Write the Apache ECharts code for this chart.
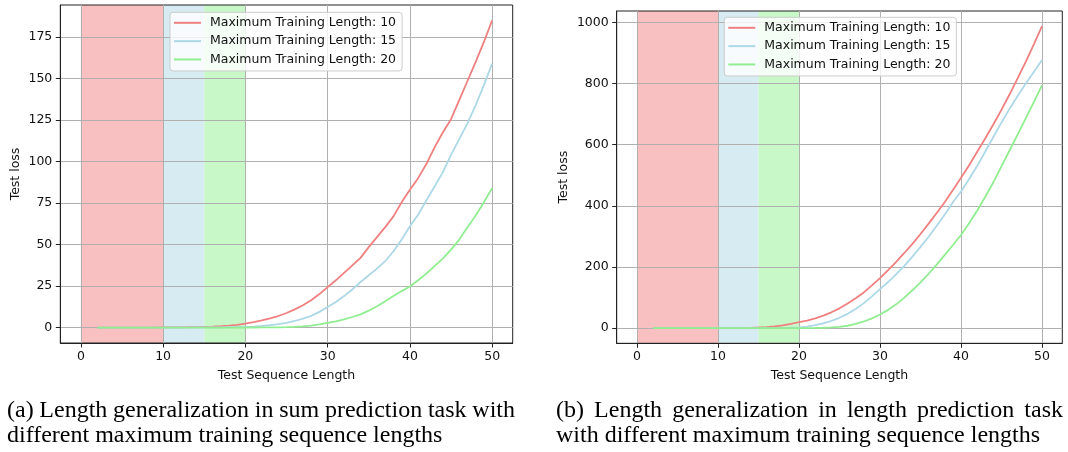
<!DOCTYPE html>
<html><head><meta charset="utf-8">
<script src="https://cdn.jsdelivr.net/npm/echarts@6/dist/echarts.min.js"></script>
<style>html,body{margin:0;padding:0;background:#fff}#c{width:1068px;height:452px}</style>
</head><body><div id="c"></div>
<script>
// ---- data ----
const seqLen = [2,3,4,5,6,7,8,9,10,11,12,13,14,15,16,17,18,19,20,21,22,23,24,25,26,27,28,29,30,31,32,33,34,35,36,37,38,39,40,41,42,43,44,45,46,47,48,49,50];
const seriesNames = ['Maximum Training Length: 10','Maximum Training Length: 15','Maximum Training Length: 20'];
// (a) sum prediction task
const sumLoss10 = [0,0,0,0,0,0,0,0.05,0.1,0.15,0.2,0.25,0.35,0.5,0.65,0.85,1.2,1.7,2.4,3.3,4.4,5.6,7.0,8.8,11.0,13.5,16.5,20.2,24.4,28.5,33,37.5,42,48.5,54.5,60.5,67,75.5,83,90,98.5,108.5,117.5,125.5,137,148.5,160,172,185];
const sumLoss15 = [0,0,0,0,0,0,0,0,0,0,0.05,0.05,0.1,0.1,0.15,0.2,0.25,0.3,0.4,0.6,1.0,1.5,2.1,2.9,4.0,5.4,7.1,9.5,12.4,15.5,19.0,23.0,27.5,31.5,35.5,40,46,53,61,68,76.5,85,93.5,104,113.5,123,134,146,159];
const sumLoss20 = [0,0,0,0,0,0,0,0,0,0,0,0,0,0,0,0,0,0,0.05,0.08,0.1,0.15,0.2,0.3,0.5,0.8,1.2,1.9,2.8,3.8,5.0,6.4,8.0,10.2,12.9,15.9,19.1,22.0,24.8,28.5,32.5,37,41.5,47,53,60.5,67.5,75.5,84];
// (b) length prediction task
const lenLoss10 = [0,0,0,0,0,0,0,0,0.1,0.2,0.3,0.6,1.2,2.2,3.8,6,9.5,14,19.5,25,32,41,52,65,81,98,117,140,164,190,217,246,276,308,342,377,413,452,492,533,577,621,667,715,765,818,872,929,988];
const lenLoss15 = [0,0,0,0,0,0,0,0,0,0.05,0.1,0.15,0.2,0.3,0.5,0.8,1.2,1.6,2.5,5,10,16,24,34,47,63,82,104,128,151,177,204,234,266,299,335,372,412,447,488,531,578,626,673,718,760,800,839,877];
const lenLoss20 = [0,0,0,0,0,0,0,0,0,0,0,0,0,0,0,0,0,0,0.2,0.4,0.8,1.5,2.5,4,8,14,22,32,45,60,78,100,124,150,178,208,240,272,305,343,385,430,478,530,582,634,687,740,795];
// training-length bands
const bands = [[0,10],[10,15],[15,20]];
// tick labels
const xTicks = [0,10,20,30,40,50];
const yTicksA = [0,25,50,75,100,125,150,175];
const yTicksB = [0,200,400,600,800,1000];
const captionA = ['(a) Length generalization in sum prediction task with','different maximum training sequence lengths'];
const captionB = ['(b) Length generalization in length prediction task','with different maximum training sequence lengths'];

// ---- styles ----
const lineColors = ['#F08080','#ADD8E6','#90EE90'];
const bandColors = ['#f8c0c0','#d6ebf2','#c8f7c8'];
const FONT = 'DejaVu Sans';
const FS = 12.5;

const grids = [
  {left:60.3, top:5, width:452.4, height:338},
  {left:616.7, top:11, width:445.6, height:332.3}
];

function xAxisOf(i){
  return {type:'value', gridIndex:i, min:-2.5, max:52.5,
    axisLine:{show:true, onZero:false, lineStyle:{color:'#222', width:1}},
    axisTick:{show:true, length:4.5, customValues:xTicks, lineStyle:{color:'#222', width:1}},
    axisLabel:{customValues:xTicks, margin:7, color:'#111', fontFamily:FONT, fontSize:FS, formatter:v=>String(v)},
    splitLine:{show:true, lineStyle:{color:'#b0b0b0', width:1}},
    name:'Test Sequence Length', nameLocation:'middle', nameGap:26,
    nameTextStyle:{color:'#111', fontFamily:FONT, fontSize:FS}
  };
}
function yAxisOf(i, min, max, ticks, gap){
  return {type:'value', gridIndex:i, min:min, max:max,
    axisLine:{show:true, onZero:false, lineStyle:{color:'#222', width:1}},
    axisTick:{show:true, length:4.5, customValues:ticks, lineStyle:{color:'#222', width:1}},
    axisLabel:{customValues:ticks, margin:8, color:'#111', fontFamily:FONT, fontSize:FS, formatter:v=>String(v)},
    splitLine:{show:true, lineStyle:{color:'#b0b0b0', width:1}},
    name:'Test loss', nameLocation:'middle', nameGap:gap, nameRotate:90,
    nameTextStyle:{color:'#111', fontFamily:FONT, fontSize:FS}
  };
}
function pairs(ys){ return seqLen.map((x,k)=>[x, ys[k]]); }
function makeSeries(gi, arrs){
  return arrs.map((ys, k)=>{
    const s = {type:'line', name:seriesNames[k], xAxisIndex:gi, yAxisIndex:gi,
      data:pairs(ys), symbol:'none', smooth:false, silent:true,
      lineStyle:{color:lineColors[k], width:1.8}, itemStyle:{color:lineColors[k]}};
    if(k===0){
      s.markArea = {silent:true, z:-1,
        data: bands.map((b,j)=>[{xAxis:b[0], itemStyle:{color:bandColors[j], opacity:1}},{xAxis:b[1]}])};
    }
    return s;
  });
}
function legendOf(left, top){
  return {orient:'vertical', left:left, top:top, data:seriesNames, icon:'rect',
    backgroundColor:'rgba(255,255,255,0.8)', borderColor:'#cccccc', borderWidth:1, borderRadius:3,
    padding:[3.5,6,4.5,4], itemWidth:27, itemHeight:2, itemGap:4.33, selectedMode:false,
    textStyle:{color:'#111', fontFamily:FONT, fontSize:FS, lineHeight:14, padding:[0,0,0,4]}};
}

// ---- caption layout ----
const capSize = 24, capScale = 1.0;
const capFont = capSize + 'px "Liberation Serif"';
const mctx = document.createElement('canvas').getContext('2d');
mctx.font = capFont;
function captionEls(lines, x0, x1, y0, dy){
  const els = [];
  lines.forEach((line, li)=>{
    const words = line.split(' ');
    const ws = words.map(w=>mctx.measureText(w).width*capScale);
    const spaceW = mctx.measureText(' ').width*capScale;
    let gap = spaceW;
    if(li===0){ const tot = ws.reduce((a,b)=>a+b,0); gap = (x1-x0-tot)/(words.length-1); }
    let x = x0;
    words.forEach((w,k)=>{
      els.push({type:'text', x:x, y:y0+li*dy, scaleX:capScale, silent:true,
        style:{text:w, font:capFont, fill:'#000', verticalAlign:'middle', align:'left'}});
      x += ws[k] + gap;
    });
  });
  return els;
}

const chart = echarts.init(document.getElementById('c'), null, {renderer:'canvas'});
chart.setOption({
  animation:false,
  backgroundColor:'#fff',
  grid: grids.map(g=>Object.assign({show:true, borderColor:'#222', borderWidth:1, backgroundColor:'transparent', containLabel:false}, g)),
  xAxis:[xAxisOf(0), xAxisOf(1)],
  yAxis:[yAxisOf(0,-9.25,194.25,yTicksA,38), yAxisOf(1,-49.4,1037.4,yTicksB,46)],
  legend:[legendOf(170,12.3), legendOf(724.3,17.3)],
  series:[].concat(makeSeries(0,[sumLoss10,sumLoss15,sumLoss20]), makeSeries(1,[lenLoss10,lenLoss15,lenLoss20])),
  graphic:{elements:[].concat(captionEls(captionA,7,515,411,25), captionEls(captionB,556,1063,411,25))}
});
</script></body></html>
